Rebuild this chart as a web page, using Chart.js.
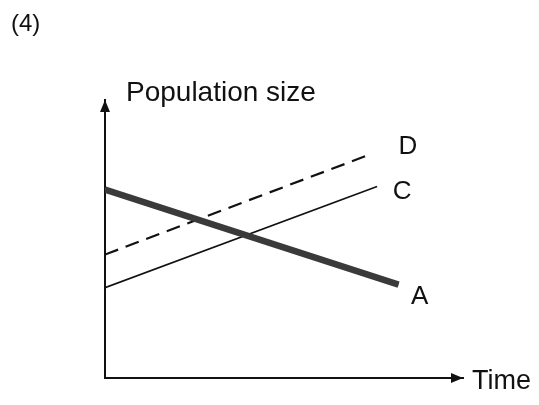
<!DOCTYPE html>
<html>
<head>
<meta charset="utf-8">
<script src="https://cdn.jsdelivr.net/npm/chart.js@4"></script>
<style>
  html, body { margin: 0; padding: 0; background: #fff; }
  #wrap { width: 539px; height: 405px; }
</style>
</head>
<body>
<div id="wrap"><canvas id="chart" width="539" height="405"></canvas></div>
<script>
// values (arbitrary units, 0-100 on both axes)
const seriesNames = ['A', 'C', 'D'];
const timeA = [0, 82];
const popA = [67.8, 33.6];
const timeC = [0, 76];
const popC = [32.5, 68.9];
const timeD = [0, 74];
const popD = [44.4, 80.4];

const figLabel = '(4)';
const yTitle = 'Population size';
const xTitle = 'Time';

function pts(xs, ys) {
    return xs.map((x, i) => ({ x: x, y: ys[i] }));
}

const font = '"Liberation Sans", Arial, sans-serif';

// axis arrows, line end labels and free text
const sketchPlugin = {
    id: 'sketch',
    afterDraw(chart) {
        const ctx = chart.ctx;
        const area = chart.chartArea;
        ctx.save();
        ctx.fillStyle = '#111';

        // arrowheads
        ctx.beginPath();
        ctx.moveTo(area.left, area.top);
        ctx.lineTo(area.left - 5, area.top + 12);
        ctx.lineTo(area.left + 5, area.top + 12);
        ctx.closePath();
        ctx.fill();
        ctx.beginPath();
        ctx.moveTo(area.right, area.bottom);
        ctx.lineTo(area.right - 12, area.bottom - 5);
        ctx.lineTo(area.right - 12, area.bottom + 5);
        ctx.closePath();
        ctx.fill();

        ctx.font = '28px ' + font;
        ctx.textBaseline = 'alphabetic';
        ctx.textAlign = 'left';
        ctx.fillText(yTitle, area.left + 21, area.top + 1);
        ctx.font = '27px ' + font;
        ctx.textBaseline = 'middle';
        ctx.fillText(xTitle, area.right + 9, area.bottom + 4);

        ctx.font = '24px ' + font;
        ctx.textBaseline = 'alphabetic';
        ctx.fillText(figLabel, 11, 31);

        // series labels next to the last point of each line
        const offsets = { A: [21, 12], C: [25, 5], D: [38, -8] };
        ctx.font = '26px ' + font;
        ctx.textBaseline = 'middle';
        ctx.textAlign = 'center';
        chart.data.datasets.forEach((ds, i) => {
            if (!ds.tag) return;
            const meta = chart.getDatasetMeta(i);
            const last = meta.data[meta.data.length - 1];
            const off = offsets[ds.tag];
            ctx.fillText(ds.tag, last.x + off[0], last.y + off[1]);
        });
        ctx.restore();
    }
};

new Chart(document.getElementById('chart'), {
    type: 'line',
    data: {
        datasets: [
            {
                data: pts(timeA, popA),
                borderColor: '#3a3a3a',
                borderWidth: 6.5,
                borderCapStyle: 'butt'
            },
            {
                tag: seriesNames[0],
                data: pts(timeA, popA),
                borderColor: '#9a9a9a',
                borderWidth: 3.5,
                borderCapStyle: 'butt'
            },
            {
                tag: seriesNames[1],
                data: pts(timeC, popC),
                borderColor: '#111',
                borderWidth: 1.6
            },
            {
                tag: seriesNames[2],
                data: pts(timeD, popD),
                borderColor: '#111',
                borderWidth: 2.2,
                borderDash: [14, 8]
            }
        ]
    },
    options: {
        responsive: false,
        animation: false,
        events: [],
        elements: {
            point: { radius: 0 },
            line: { tension: 0 }
        },
        layout: { padding: { left: 97, right: 76, top: 100, bottom: 19 } },
        plugins: {
            legend: { display: false },
            tooltip: { enabled: false }
        },
        scales: {
            x: {
                type: 'linear',
                min: 0,
                max: 100,
                grid: { display: false },
                ticks: { display: false },
                border: { display: true, color: '#111', width: 2 }
            },
            y: {
                min: 0,
                max: 100,
                grid: { display: false },
                ticks: { display: false },
                border: { display: true, color: '#111', width: 2 }
            }
        }
    },
    plugins: [sketchPlugin]
});
</script>
</body>
</html>
